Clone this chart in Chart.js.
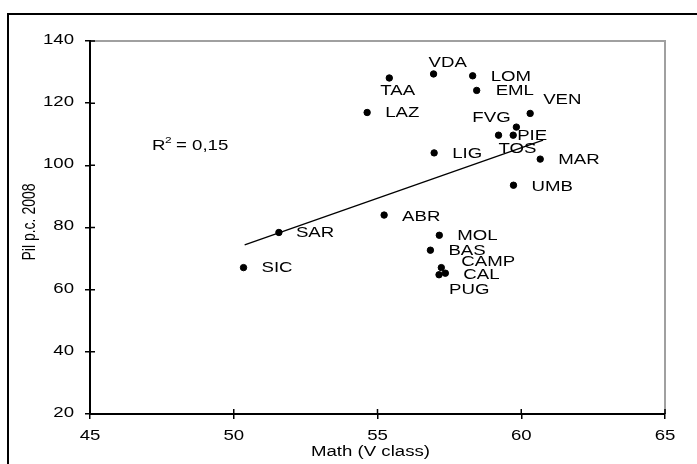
<!DOCTYPE html>
<html>
<head>
<meta charset="utf-8">
<script src="https://cdn.jsdelivr.net/npm/chart.js@4/dist/chart.umd.min.js"></script>
<style>
  html, body { margin: 0; padding: 0; background: #fff; }
  canvas { display: block; }
</style>
</head>
<body>
<canvas id="myChart" width="697" height="464"></canvas>
<script>
// values
const regions = ['VDA', 'TAA', 'LOM', 'EML', 'LAZ', 'VEN', 'FVG', 'TOS', 'PIE', 'LIG',
                 'MAR', 'UMB', 'ABR', 'SAR', 'MOL', 'BAS', 'CAMP', 'CAL', 'PUG', 'SIC'];
const mathScores = [56.95, 55.41, 58.31, 58.45, 54.64, 60.31, 59.83, 59.21, 59.72, 56.97,
                    60.66, 59.73, 55.23, 51.57, 57.15, 56.84, 57.22, 57.36, 57.14, 50.34];
const gdpIndex = [129.4, 128.1, 128.8, 124.1, 117.0, 116.7, 112.3, 109.7, 109.7, 104.0,
                  102.0, 93.6, 84.0, 78.4, 77.5, 72.7, 67.1, 65.3, 64.8, 67.1];
const trendX = [50.38, 60.76];
const trendY = [74.4, 108.1];
const xTicks = [45, 50, 55, 60, 65];
const yTicks = [20, 40, 60, 80, 100, 120, 140];

// where each label sits relative to its dot (px)
const labelOffsets = [[-5, -11], [-9, 13], [18, 1], [19, 1], [18, 1], [13, -13], [-44, -9], [0, 14],
                      [4, 1], [18, 1], [18, 1], [18, 2], [18, 2], [17, 1], [18, 1], [18, 1],
                      [20, -5], [18, 2], [10, 15], [18, 1]];

const FONT = '14px "Liberation Sans", Arial, sans-serif';
const STRETCH = 1.33;

function stretchedText(ctx, text, x, y, align) {
    ctx.save();
    ctx.translate(x, y);
    ctx.scale(STRETCH, 1);
    ctx.textAlign = align;
    ctx.fillText(text, 0, 0);
    ctx.restore();
}

const decorations = {
    id: 'decorations',
    beforeDraw(chart) {
        const ctx = chart.ctx;
        const a = chart.chartArea;
        ctx.save();
        ctx.fillStyle = '#fff';
        ctx.fillRect(0, 0, chart.width, chart.height);
        // outer frame
        ctx.strokeStyle = '#000';
        ctx.lineWidth = 2;
        ctx.strokeRect(8, 14, chart.width + 20, chart.height + 20);
        // grey plot frame top / right
        ctx.strokeStyle = '#a0a0a0';
        ctx.lineWidth = 2;
        ctx.beginPath();
        ctx.moveTo(a.left, a.top);
        ctx.lineTo(a.right, a.top);
        ctx.lineTo(a.right, a.bottom);
        ctx.stroke();
        ctx.restore();
    },
    afterDraw(chart) {
        const ctx = chart.ctx;
        const xs = chart.scales.x;
        const ys = chart.scales.y;
        const a = chart.chartArea;
        ctx.save();
        ctx.fillStyle = '#000';
        ctx.strokeStyle = '#000';
        ctx.font = FONT;
        ctx.textBaseline = 'middle';

        // inner half of the cross ticks
        ctx.lineWidth = 1.5;
        ctx.beginPath();
        xTicks.forEach(v => {
            const px = xs.getPixelForValue(v);
            ctx.moveTo(px, a.bottom);
            ctx.lineTo(px, a.bottom - 5);
        });
        yTicks.forEach(v => {
            const py = ys.getPixelForValue(v);
            ctx.moveTo(a.left, py);
            ctx.lineTo(a.left + 5, py);
        });
        ctx.stroke();

        // tick labels
        xTicks.forEach(v => stretchedText(ctx, String(v), xs.getPixelForValue(v), a.bottom + 22, 'center'));
        yTicks.forEach(v => stretchedText(ctx, String(v), a.left - 16, ys.getPixelForValue(v) - 1, 'right'));

        // axis titles
        stretchedText(ctx, 'Math (V class)', (a.left + a.right) / 2 - 7, a.bottom + 38, 'center');
        ctx.save();
        ctx.translate(30, 222);
        ctx.scale(STRETCH, 1);
        ctx.rotate(-Math.PI / 2);
        ctx.textAlign = 'center';
        ctx.fillText('Pil p.c. 2008', 0, 0);
        ctx.restore();

        // point labels
        const meta = chart.getDatasetMeta(0);
        meta.data.forEach((pt, i) => {
            stretchedText(ctx, regions[i], pt.x + labelOffsets[i][0], pt.y + labelOffsets[i][1], 'left');
        });

        // R squared
        const rx = a.left + 62, ry = a.top + 105;
        stretchedText(ctx, 'R', rx, ry, 'left');
        ctx.font = '9px "Liberation Sans", Arial, sans-serif';
        stretchedText(ctx, '2', rx + 13, ry - 5, 'left');
        ctx.font = FONT;
        stretchedText(ctx, '= 0,15', rx + 24, ry, 'left');
        ctx.restore();
    }
};

const data = {
    datasets: [{
        type: 'scatter',
        label: 'regions',
        data: mathScores.map((x, i) => ({ x: x, y: gdpIndex[i] })),
        backgroundColor: '#000',
        borderColor: '#000',
        pointRadius: 3.2,
        pointHoverRadius: 3.2,
        order: 1
    }, {
        type: 'line',
        label: 'trend',
        data: trendX.map((x, i) => ({ x: x, y: trendY[i] })),
        borderColor: '#000',
        borderWidth: 1.3,
        pointRadius: 0,
        fill: false,
        order: 2
    }]
};

const config = {
    type: 'scatter',
    data: data,
    plugins: [decorations],
    options: {
        responsive: false,
        animation: false,
        layout: { padding: { left: 0, top: 41, right: 32, bottom: 0 } },
        plugins: { legend: { display: false }, tooltip: { enabled: false } },
        scales: {
            x: {
                type: 'linear',
                min: 45,
                max: 65,
                afterFit: s => { s.height = 50; },
                ticks: { display: false, stepSize: 5 },
                grid: { drawOnChartArea: false, drawTicks: true, tickLength: 5, color: '#000', lineWidth: 1.5 },
                border: { color: '#000', width: 2 }
            },
            y: {
                type: 'linear',
                min: 20,
                max: 140,
                afterFit: s => { s.width = 90; },
                ticks: { display: false, stepSize: 20 },
                grid: { drawOnChartArea: false, drawTicks: true, tickLength: 5, color: '#000', lineWidth: 1.5 },
                border: { color: '#000', width: 2 }
            }
        }
    }
};

// eslint-disable-next-line
const myChart = new Chart(document.getElementById('myChart'), config);
</script>
</body>
</html>
